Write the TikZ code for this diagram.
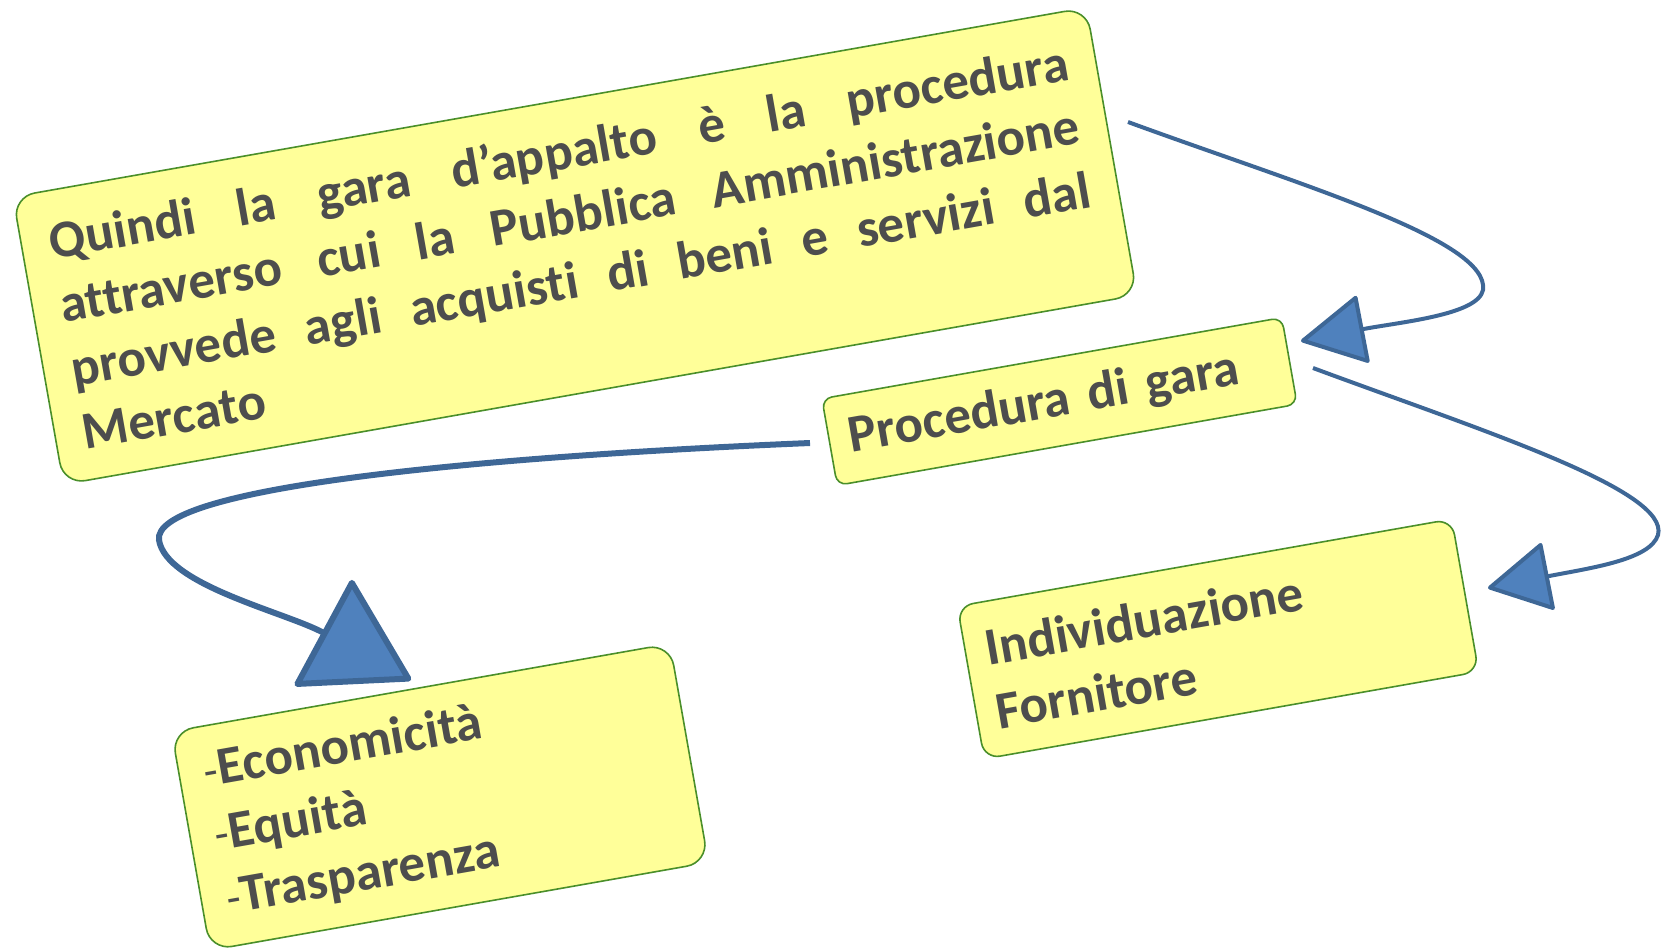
\documentclass[tikz,border=0pt]{standalone}
\usepackage{fontspec}
\setmainfont{Carlito}[Ligatures={TeX,NoCommon}]
\usetikzlibrary{arrows.meta}
\definecolor{boxfill}{HTML}{FFFF99}
\definecolor{boxline}{HTML}{4A8F2A}
\definecolor{txt}{HTML}{4D4D4D}
\definecolor{linec}{HTML}{3E6796}
\definecolor{afill}{HTML}{4F81BD}
\newcommand\smallhy{{\mdseries\fontsize{46}{46}\selectfont -}}
\tikzset{
  box/.style={draw=boxline, fill=boxfill, line width=1.6pt, rotate=10,
    text=txt, font=\bfseries\fontsize{53}{64.5}\selectfont, inner ysep=0pt},
  conn/.style={draw=linec, line width=4pt},
}
\begin{document}
\begin{tikzpicture}[x=1pt,y=-1pt]
\useasboundingbox (0,0) rectangle (1661,951);
\node[box, rounded corners=22pt, align=justify, text width=1034pt, inner xsep=28pt,
      minimum height=292pt] (big) at (575,246)
  {\hyphenpenalty=10000 \tolerance=10000
   Quindi la gara d’appalto è la procedura\linebreak attraverso cui la Pubblica Amministrazione\linebreak provvede agli acquisti di beni e servizi dal\linebreak Mercato};
\node[box, rounded corners=10pt, align=left, text width=427pt, inner xsep=20pt,
      minimum height=88pt] (pg) at (1059.5,401.5) {Procedura di gara};
\node[box, rounded corners=16pt, align=left, text width=462pt, inner xsep=20pt,
      minimum height=155pt] (ind) at (1218,639) {Individuazione\\Fornitore};
\node[box, rounded corners=22pt, align=left, text width=456pt, inner xsep=25pt,
      minimum height=222pt] (eco) at (440,797)
  {\smallhy Economicità\\\smallhy Equità\\\smallhy Trasparenza};
\coordinate (s1) at (1128,122);
\coordinate (t1) at (1301,341);
\coordinate (s2) at (1313,368);
\coordinate (t2) at (1488,588);
\coordinate (s3) at (810,443);
\coordinate (t3) at (411,680);
\draw[conn, -{Triangle[length=66pt,width=70pt,fill=afill,round]}]
  (s1) .. controls (1300,185) and (1490,240) .. (1483,290)
       .. controls (1478,315) and (1400,322) .. (t1);
\draw[conn, -{Triangle[length=64pt,width=70pt,fill=afill,round]}]
  (s2) .. controls (1480,430) and (1670,490) .. (1658,535)
       .. controls (1650,560) and (1590,568) .. (t2);
\draw[conn, line width=6pt, -{Triangle[length=104pt,width=124pt,fill=afill,round]}]
  (s3) .. controls (450,458) and (152,490) .. (159,540)
       .. controls (166,585) and (285,612) .. (t3);
\end{tikzpicture}
\end{document}
